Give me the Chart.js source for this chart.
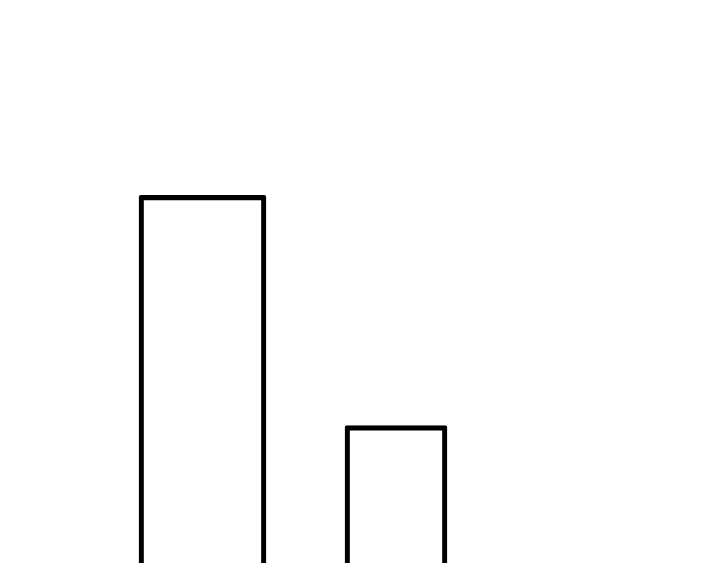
<!DOCTYPE html>
<html>
<head>
<meta charset="utf-8">
<script src="https://cdn.jsdelivr.net/npm/chart.js@4/dist/chart.umd.min.js"></script>
<style>
html,body{margin:0;padding:0;background:#fff;overflow:hidden;width:720px;height:563px;}
canvas{display:block;}
</style>
</head>
<body>
<canvas id="c" width="720" height="700"></canvas>
<script>
const categories = ['A', 'B'];
const seriesA = [72.1, null];
const seriesB = [null, 39.2];

const ctx = document.getElementById('c').getContext('2d');
new Chart(ctx, {
  type: 'bar',
  data: {
    labels: categories,
    datasets: [
      { data: seriesA, barThickness: 127, backgroundColor: 'rgba(0,0,0,0)', borderColor: '#000', borderWidth: 4.5, borderSkipped: false, borderRadius: 2, grouped: false },
      { data: seriesB, barThickness: 102, backgroundColor: 'rgba(0,0,0,0)', borderColor: '#000', borderWidth: 4.5, borderSkipped: false, borderRadius: 2, grouped: false }
    ]
  },
  options: {
    responsive: false,
    animation: false,
    devicePixelRatio: 1,
    layout: { padding: { left: 105.75, right: 227.25, top: 0, bottom: 0 } },
    plugins: { legend: { display: false }, tooltip: { enabled: false } },
    scales: {
      x: { display: false, offset: true },
      y: { display: false, min: 0, max: 100 }
    }
  }
});
</script>
</body>
</html>
